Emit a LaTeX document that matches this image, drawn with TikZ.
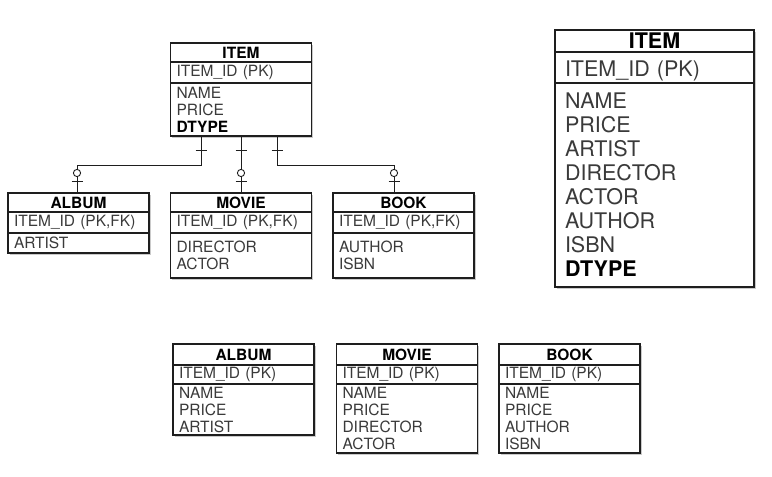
\documentclass[tikz,border=0pt]{standalone}
\usepackage{fontspec}
\setmainfont{TeX Gyre Heros}
\usetikzlibrary{positioning,backgrounds,decorations.markings}
\definecolor{txtgray}{HTML}{3A3A3A}
\definecolor{edge}{HTML}{1E1E1E}

\begin{document}
\begin{tikzpicture}[x=1pt, y=-1pt,
			cell/.style={draw=edge, line width=1.1pt, fill=white, outer sep=0pt, inner xsep=6pt, inner ysep=0pt},
			head/.style={cell, anchor=north, text width=129pt, minimum height=19pt, align=center, font=\fontsize{15.5}{17}\selectfont\bfseries},
			keyrow/.style={cell, text width=129pt, minimum height=21pt, align=left, text=txtgray, font=\fontsize{15.5}{17}\selectfont},
			fields/.style={cell, text width=129pt, align=left, text=txtgray, font=\fontsize{15.5}{17}\selectfont},
			tableframe/.style={draw=edge, line width=1.4pt},
			shadowfill/.style={fill=black!35, opacity=0.6},
			link/.style={draw=edge, line width=0.9pt, postaction={decorate},
				decoration={markings,
					mark=at position 14pt with {\draw[line width=0.9pt] (0,-5.5pt) -- (0,5.5pt);},
					mark=at position -20pt with {\draw[line width=0.9pt, fill=white] (0,0) circle (3.6pt);},
					mark=at position -12pt with {\draw[line width=0.9pt] (0,-5.5pt) -- (0,5.5pt);}}}]
			
			\useasboundingbox (0,0) rectangle (772,477);
			
			% supertype with joined subtypes
			\node[head] (item) at (241,43) {ITEM};
			\node[keyrow, below=0pt of item] (itemkey) {ITEM\_ID (PK)};
			\node[fields, below=0pt of itemkey, minimum height=53pt] (itemattr) {NAME\\PRICE\\\textcolor{black}{\textbf{DTYPE}}};
			
			\node[head] (album) at (78.5,193) {ALBUM};
			\node[keyrow, below=0pt of album] (albumkey) {ITEM\_ID (PK,FK)};
			\node[fields, below=0pt of albumkey, minimum height=20pt] (albumattr) {ARTIST};
			
			\node[head] (movie) at (241,193) {MOVIE};
			\node[keyrow, below=0pt of movie] (moviekey) {ITEM\_ID (PK,FK)};
			\node[fields, below=0pt of moviekey, minimum height=45pt] (movieattr) {DIRECTOR\\ACTOR};
			
			\node[head] (book) at (403.5,193) {BOOK};
			\node[keyrow, below=0pt of book] (bookkey) {ITEM\_ID (PK,FK)};
			\node[fields, below=0pt of bookkey, minimum height=45pt] (bookattr) {AUTHOR\\ISBN};
			
			% single table
			\node[head, inner xsep=10pt, text width=179pt, minimum height=22pt, font=\fontsize{21.5}{24.2}\selectfont\bfseries] (itemall) at (654.5,30) {ITEM};
			\node[keyrow, inner xsep=10pt, text width=179pt, minimum height=31pt, text height=22pt, font=\fontsize{21.5}{24.2}\selectfont, below=0pt of itemall] (itemallkey) {ITEM\_ID (PK)};
			\node[fields, inner xsep=10pt, text width=179pt, minimum height=204pt, font=\fontsize{21.5}{24}\selectfont, below=0pt of itemallkey] (itemallattr) {NAME\\PRICE\\ARTIST\\DIRECTOR\\ACTOR\\AUTHOR\\ISBN\\\textcolor{black}{\textbf{DTYPE}}};
			
			% one table per concrete class
			\node[head, minimum height=21pt] (albumtb) at (243.5,344) {ALBUM};
			\node[keyrow, minimum height=19pt, below=0pt of albumtb] (albumtbkey) {ITEM\_ID (PK)};
			\node[fields, below=0pt of albumtbkey, minimum height=51pt] (albumtbattr) {NAME\\PRICE\\ARTIST};
			
			\node[head, minimum height=21pt] (movietb) at (407,344) {MOVIE};
			\node[keyrow, minimum height=19pt, below=0pt of movietb] (movietbkey) {ITEM\_ID (PK)};
			\node[fields, below=0pt of movietbkey, minimum height=69pt] (movietbattr) {NAME\\PRICE\\DIRECTOR\\ACTOR};
			
			\node[head, minimum height=21pt] (booktb) at (569.5,344) {BOOK};
			\node[keyrow, minimum height=19pt, below=0pt of booktb] (booktbkey) {ITEM\_ID (PK)};
			\node[fields, below=0pt of booktbkey, minimum height=69pt] (booktbattr) {NAME\\PRICE\\AUTHOR\\ISBN};
			
			\foreach \t/\b in {item/itemattr, album/albumattr, movie/movieattr, book/bookattr, itemall/itemallattr, albumtb/albumtbattr, movietb/movietbattr, booktb/booktbattr} {
				\draw[tableframe] (\t.north west) rectangle (\b.south east);
				\begin{scope}[on background layer]
					\fill[shadowfill] ([shift={(1.5,2)}]\t.north west) rectangle ([shift={(1.5,2)}]\b.south east);
				\end{scope}
			}
			
			\draw[link] ([xshift=-40pt]itemattr.south) -- ++(0,29) -| ([xshift=-1.5pt]album.north);
			\draw[link] (itemattr.south) -- (movie.north);
			\draw[link] ([xshift=36pt]itemattr.south) -- ++(0,29) -| ([xshift=-9.5pt]book.north);
			
		\end{tikzpicture}
\end{document}
